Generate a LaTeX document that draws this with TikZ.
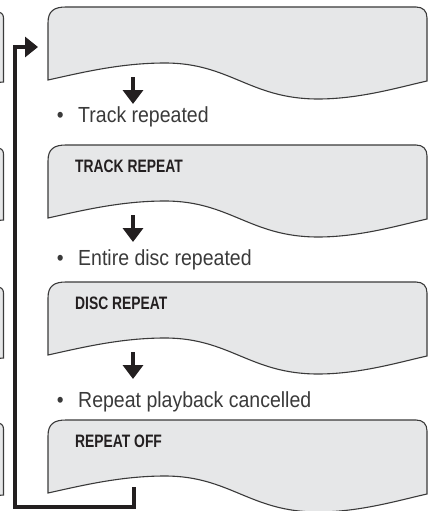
\documentclass[tikz,border=0pt]{standalone}
\usepackage{fontspec}
\setmainfont{Liberation Sans}
\usetikzlibrary{arrows.meta}
\definecolor{boxfill}{HTML}{E6E7E8}
\definecolor{boxline}{HTML}{3A3A3A}
\definecolor{ink}{HTML}{231F20}
\definecolor{bodyink}{HTML}{3A3A3A}
\tikzset{
  boxstyle/.style={fill=boxfill,draw=boxline,line width=1.1pt},
  dispbox/.pic={
    \path[boxstyle] (48,73) -- (48,16) .. controls (48,4) and (54,0) .. (66,0)
      -- (416,0) .. controls (423,0) and (427,4) .. (427,11) -- (427,74)
      .. controls (400,80) and (360,92) .. (318,92)
      .. controls (250,92) and (230,56) .. (165,56)
      .. controls (120,56) and (80,66) .. (48,73) -- cycle;
  },
  sidebox/.style={boxstyle},
  downarrow/.style={draw=ink,line width=3.6pt,-{Triangle[length=14pt,width=20pt]}},
  looparrow/.style={draw=ink,line width=4pt,-{Triangle[length=13pt,width=20pt]}},
  bullettext/.style={anchor=base west,inner sep=0pt,text=bodyink,font=\fontsize{19.5}{24}\selectfont},
  lcdtext/.style={anchor=base west,inner sep=0pt,text=ink,font=\fontsize{18}{21}\selectfont\bfseries},
}
\newcommand\btext[1]{\scalebox{1}[1.12]{•\hspace{14.6pt}#1}}
\newcommand\ltext[1]{\scalebox{0.77}[1]{#1}}
\begin{document}
\begin{tikzpicture}[x=1pt,y=-1pt]
\useasboundingbox (0,0) rectangle (430,511);
% partial boxes of the left column
\foreach \t/\b in {12/82,148/220,287/358,423/495}{
  \path[sidebox] (-20,\t) -- (-3,\t) .. controls (1,\t) and (3.5,\t+2) .. (3.5,\t+6) -- (3.5,\b) -- (-20,\b+2) -- cycle;
}
% display boxes
\pic at (0,7) {dispbox};
\pic at (0,145) {dispbox};
\pic at (0,282) {dispbox};
\pic at (0,420) {dispbox};
% labels inside boxes
\node[lcdtext] (l2) at (75,172) {\ltext{TRACK REPEAT}};
\node[lcdtext] (l3) at (75,309) {\ltext{DISC REPEAT}};
\node[lcdtext] (l4) at (75,447) {\ltext{REPEAT OFF}};
% down arrows
\coordinate (a1s) at (133,77);  \coordinate (a1e) at (133,104);
\coordinate (a2s) at (133,215); \coordinate (a2e) at (133,242);
\coordinate (a3s) at (133,352); \coordinate (a3e) at (133,379);
\draw[downarrow] (a1s) -- (a1e);
\draw[downarrow] (a2s) -- (a2e);
\draw[downarrow] (a3s) -- (a3e);
% bullet texts
\node[bullettext] (t1) at (56.6,122) {\btext{Track repeated}};
\node[bullettext] (t2) at (56.6,265) {\btext{Entire disc repeated}};
\node[bullettext] (t3) at (56.6,407) {\btext{Repeat playback cancelled}};
% loop back connector
\coordinate (loopstart) at (134,487);
\coordinate (loopend) at (38,47);
\draw[looparrow] (loopstart) |- (15,507) |- (loopend);
\end{tikzpicture}
\end{document}
